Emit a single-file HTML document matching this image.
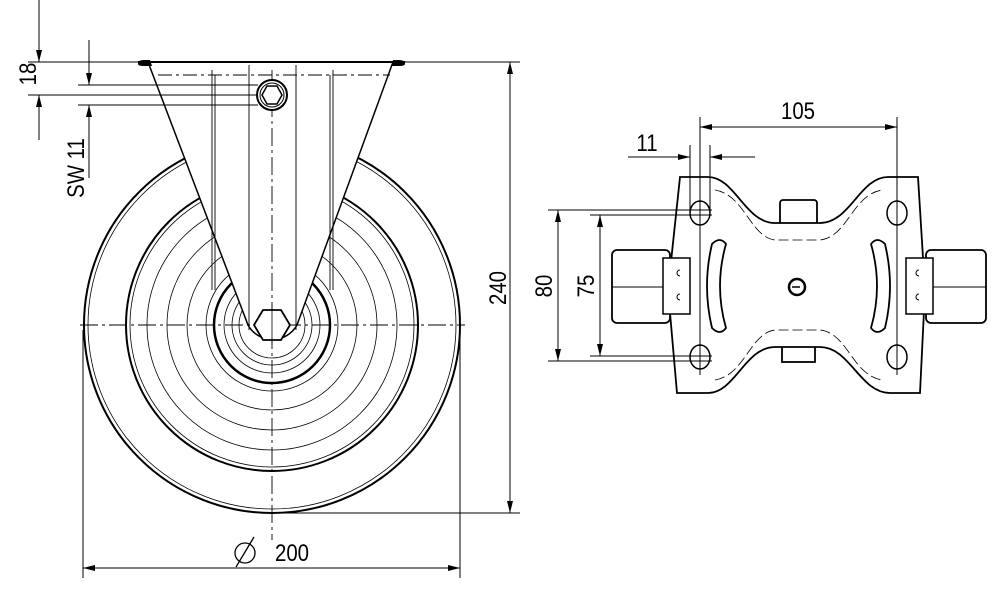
<!DOCTYPE html>
<html><head><style>
html,body{margin:0;padding:0;background:#fff;}
svg{display:block;}
text{font-family:"Liberation Sans",sans-serif;font-size:24px;fill:#000;}
</style></head><body>
<svg width="1000" height="592" viewBox="0 0 1000 592" xmlns="http://www.w3.org/2000/svg">
<defs>
<marker id="a" viewBox="0 0 12 6" refX="12" refY="3" markerWidth="12" markerHeight="6" orient="auto-start-reverse" markerUnits="userSpaceOnUse"><path d="M0,0 L12,3 L0,6 z" fill="#000"/></marker>
</defs>
<g fill="none" stroke="#000">
<circle cx="272" cy="325" r="188" stroke-width="2"/>
<circle cx="272" cy="325" r="184" stroke-width="0.8"/>
<circle cx="272" cy="325" r="146" stroke-width="2"/>
<circle cx="272" cy="325" r="142" stroke-width="0.8"/>
<circle cx="272" cy="325" r="125" stroke-width="0.8"/>
<circle cx="272" cy="325" r="105" stroke-width="0.8"/>
<circle cx="272" cy="325" r="85" stroke-width="0.8"/>
<circle cx="272" cy="325" r="66" stroke-width="0.8"/>
<circle cx="272" cy="325" r="58" stroke-width="2.5"/>
<circle cx="272" cy="325" r="48" stroke-width="0.8"/>
<circle cx="272" cy="325" r="40" stroke-width="0.8"/>
<circle cx="272" cy="325" r="33" stroke-width="0.8"/>
</g>
<path d="M148,62 L393,62 L297,325 A28,28 0 0 1 248,325 Z" fill="#fff" stroke="#000" stroke-width="1.5"/>
<g fill="none" stroke="#000" stroke-width="0.9">
<line x1="212" y1="70" x2="212" y2="290"/><line x1="215" y1="75" x2="215" y2="290"/>
<line x1="249" y1="65" x2="249" y2="330"/><line x1="296" y1="65" x2="296" y2="330"/>
<line x1="330" y1="75" x2="330" y2="290"/><line x1="333" y1="70" x2="333" y2="290"/>
<line x1="158" y1="75" x2="390" y2="75" stroke-dasharray="14,4,3,4"/>
<line x1="272" y1="70" x2="272" y2="540" stroke-dasharray="18,4,3,4"/>
<line x1="80" y1="325" x2="465" y2="325" stroke-dasharray="18,4,3,4"/>
</g>
<line x1="138" y1="62" x2="405" y2="62" stroke="#000" stroke-width="2"/>
<path d="M138,64 q0,-4 6,-4 l6,0 l2,6 l-8,0 q-6,0 -6,-2z M405,64 q0,-4 -6,-4 l-6,0 l-2,6 l8,0 q6,0 6,-2z" fill="#000"/>
<circle cx="272" cy="95" r="15" fill="#fff" stroke="#000" stroke-width="2"/>
<circle cx="272" cy="95" r="12" fill="none" stroke="#000" stroke-width="1"/>
<polygon points="262,95 267,86 277,86 282,95 277,104 267,104" fill="none" stroke="#000" stroke-width="1.5"/>
<polygon points="254,325 263,310 281,310 290,325 281,340 263,340" fill="#fff" stroke="#000" stroke-width="1.8"/>
<line x1="272" y1="305" x2="272" y2="345" stroke="#000" stroke-width="0.8"/>
<g stroke="#000" stroke-width="1" fill="none">
<line x1="405" y1="62" x2="520" y2="62"/>
<line x1="272" y1="513" x2="520" y2="513"/>
<line x1="510" y1="62" x2="510" y2="513" marker-start="url(#a)" marker-end="url(#a)"/>
<line x1="83" y1="330" x2="83" y2="578"/><line x1="460" y1="330" x2="460" y2="578"/>
<line x1="83" y1="568" x2="460" y2="568" marker-start="url(#a)" marker-end="url(#a)"/>
<line x1="28" y1="62" x2="140" y2="62"/><line x1="28" y1="95" x2="258" y2="95"/>
<line x1="39" y1="0" x2="39" y2="62" marker-end="url(#a)"/>
<line x1="39" y1="140" x2="39" y2="95" marker-end="url(#a)"/>
<line x1="78" y1="85" x2="258" y2="85"/><line x1="78" y1="105" x2="258" y2="105"/>
<line x1="89" y1="40" x2="89" y2="85" marker-end="url(#a)"/>
<line x1="89" y1="178" x2="89" y2="105" marker-end="url(#a)"/>
<circle cx="245" cy="553" r="10" stroke-width="1.3"/>
<line x1="236" y1="567" x2="254" y2="537" stroke-width="1.3"/>
</g>
<text transform="translate(506,288) rotate(-90) scale(0.85,1)" text-anchor="middle">240</text>
<text transform="translate(36,74) rotate(-90) scale(0.85,1)" text-anchor="middle">18</text>
<text transform="translate(84,168) rotate(-90) scale(0.85,1)" text-anchor="middle">SW  11</text>
<text transform="translate(292,561) scale(0.85,1)" text-anchor="middle">200</text>
<g stroke="#000" fill="#fff">
<rect x="612" y="250" width="58" height="73" rx="5" stroke-width="1.8"/>
<rect x="926" y="250" width="60" height="73" rx="5" stroke-width="1.8"/>
<rect x="780" y="200" width="37" height="26" rx="3" stroke-width="1.8"/>
<rect x="782" y="346" width="33" height="16" stroke-width="1.8"/>
<path d="M680,177 L708,177 C735,177 745,223 775,223 L820,223 C850,223 860,177 888,177 L918,177 L925,290 L920,393 L890,393 C860,393 850,347 820,347 L775,347 C745,347 735,393 708,393 L677,393 L668,290 Z" stroke-width="1.8"/>
<rect x="663" y="258" width="27" height="56" stroke-width="1.5"/>
<rect x="906" y="258" width="27" height="56" stroke-width="1.5"/>
<path d="M712,244 q8,-8 14,0 q-12,42 0,84 q-6,8 -14,0 q-10,-42 0,-84z" stroke-width="1.8"/>
<path d="M885,244 q-8,-8 -14,0 q12,42 0,84 q6,8 14,0 q10,-42 0,-84z" stroke-width="1.8"/>
<ellipse cx="700" cy="213" rx="10" ry="12" stroke-width="1.5"/>
<ellipse cx="897" cy="213" rx="10" ry="12" stroke-width="1.5"/>
<ellipse cx="700" cy="357" rx="10" ry="12" stroke-width="1.5"/>
<ellipse cx="897" cy="357" rx="10" ry="12" stroke-width="1.5"/>
<circle cx="797" cy="287" r="8" stroke-width="2.5"/>
</g>
<line x1="792" y1="287" x2="800" y2="287" stroke="#000" stroke-width="1.5"/>
<line x1="612" y1="287" x2="663" y2="287" stroke="#000"/><line x1="933" y1="287" x2="986" y2="287" stroke="#000"/>
<g fill="none" stroke="#000" stroke-width="0.8" stroke-dasharray="10,4">
<path d="M715,190 C745,195 750,237 775,240 L820,240 C848,237 852,195 882,190"/>
<path d="M715,380 C745,375 750,333 775,330 L820,330 C848,333 852,375 882,380"/>
</g>
<g fill="none" stroke="#000" stroke-width="1">
<path d="M680,270 a3,3 0 1 0 0,6"/><path d="M680,294 a3,3 0 1 0 0,6"/>
<path d="M919,270 a3,3 0 1 0 0,6"/><path d="M919,294 a3,3 0 1 0 0,6"/>
</g>
<g stroke="#000" stroke-width="1" fill="none">
<line x1="700" y1="117" x2="700" y2="375"/><line x1="897" y1="117" x2="897" y2="375"/>
<line x1="690" y1="145" x2="690" y2="210"/><line x1="710" y1="145" x2="710" y2="210"/>
<line x1="700" y1="127" x2="897" y2="127" marker-start="url(#a)" marker-end="url(#a)"/>
<line x1="628" y1="157" x2="690" y2="157" marker-end="url(#a)"/>
<line x1="755" y1="157" x2="710" y2="157" marker-end="url(#a)"/>
<line x1="548" y1="210" x2="712" y2="210"/><line x1="548" y1="361" x2="712" y2="361"/>
<line x1="590" y1="215" x2="712" y2="215"/><line x1="590" y1="356" x2="712" y2="356"/>
<line x1="558" y1="210" x2="558" y2="361" marker-start="url(#a)" marker-end="url(#a)"/>
<line x1="600" y1="215" x2="600" y2="356" marker-start="url(#a)" marker-end="url(#a)"/>
</g>
<text transform="translate(798,119) scale(0.85,1)" text-anchor="middle">105</text>
<text transform="translate(647,151) scale(0.85,1)" text-anchor="middle">11</text>
<text transform="translate(552,286) rotate(-90) scale(0.85,1)" text-anchor="middle">80</text>
<text transform="translate(594,286) rotate(-90) scale(0.85,1)" text-anchor="middle">75</text>
</svg>
</body></html>
